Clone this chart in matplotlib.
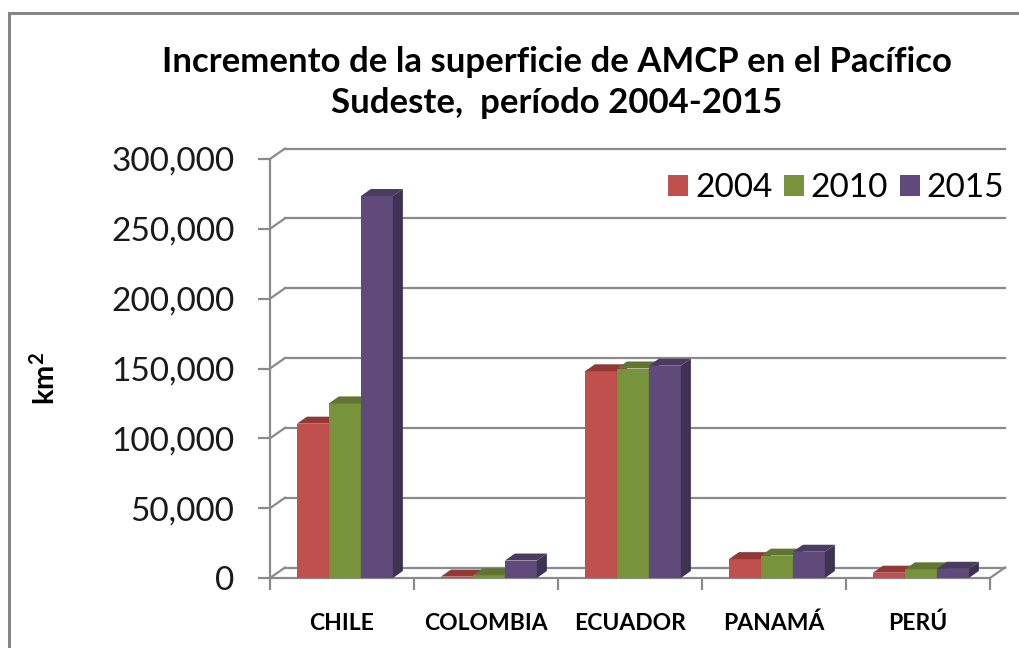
import numpy as np
import matplotlib
matplotlib.use('Agg')
import matplotlib.pyplot as plt
from matplotlib.patches import Polygon, Rectangle, Patch

plt.rcParams['font.family'] = ['Lato', 'DejaVu Sans']
plt.rcParams['mathtext.fontset'] = 'custom'
plt.rcParams['mathtext.rm'] = 'Lato'
plt.rcParams['mathtext.bf'] = 'Lato:bold'

countries = ['CHILE', 'COLOMBIA', 'ECUADOR', 'PANAMÁ', 'PERÚ']
years = ['2004', '2010', '2015']
v2004 = [110500, 1000, 148000, 13500, 3800]
v2010 = [125000, 2000, 150000, 16000, 6200]
v2015 = [273500, 12500, 152000, 18800, 6600]
yticks = [0, 50000, 100000, 150000, 200000, 250000, 300000]

front = ['#C0504D', '#77933C', '#604A7B']
top = ['#953735', '#5F7530', '#4B3A62']
side = ['#8C3A38', '#566B2C', '#3F3151']
grid_c = '#8A8A8A'

W, H = 1020, 648
fig = plt.figure(figsize=(W / 100, H / 100), dpi=100)
# front plane of the 3d plot area, in pixels: x 270..990, y(0)=578, y(300k)=159
ax = fig.add_axes([270 / W, (H - 578) / H, 720 / W, 419 / H])
ax.set_xlim(0, 5)
ax.set_ylim(0, 300000)
for s in ax.spines.values():
    s.set_visible(False)

px_x = 5 / 720.0
px_y = 300000 / 419.0
# wall depth and bar depth offsets (pixels -> data)
wdx, wdy = 15 * px_x, 10.5 * px_y
bdx, bdy = 10 * px_x, 7 * px_y

# back wall gridlines + side wall diagonals
for v in yticks:
    ax.plot([wdx, 5 + wdx], [v + wdy, v + wdy], color=grid_c, lw=1.6, clip_on=False, zorder=1)
    ax.plot([0, wdx], [v, v + wdy], color=grid_c, lw=1.6, clip_on=False, zorder=1)
# floor
ax.plot([0, 5], [0, 0], color=grid_c, lw=1.6, clip_on=False, zorder=1)
ax.plot([5, 5 + wdx], [0, wdy], color=grid_c, lw=1.6, clip_on=False, zorder=1)
ax.plot([0, 0], [0, 300000], color=grid_c, lw=1.6, clip_on=False, zorder=1)

# bars
bw = 32 * px_x
x = np.arange(len(countries)) + 0.5
for k, vals in enumerate([v2004, v2010, v2015]):
    xc = x + (k - 1) * bw + 0.02
    ax.bar(xc, vals, width=bw, color=front[k], zorder=3 + k, linewidth=0)
    for xi, h in zip(xc, vals):
        x0, x1 = xi - bw / 2, xi + bw / 2
        ax.add_patch(Polygon([(x0, h), (x1, h), (x1 + bdx, h + bdy), (x0 + bdx, h + bdy)],
                             closed=True, facecolor=top[k], lw=0, zorder=3 + k, clip_on=False))
        ax.add_patch(Polygon([(x1, 0), (x1 + bdx, bdy), (x1 + bdx, h + bdy), (x1, h)],
                             closed=True, facecolor=side[k], lw=0, zorder=3 + k, clip_on=False))

# axes ticks
ax.set_yticks(yticks)
ax.set_yticklabels(['{:,.0f}'.format(v) for v in yticks], fontsize=24, color='#1a1a1a')
ax.tick_params(axis='y', length=8.6, width=1.6, color=grid_c, pad=17)
ax.set_xticks(x)
ax.set_xticklabels(countries, fontsize=16.5, fontweight='bold')
ax.tick_params(axis='x', length=0, pad=25)
ax.set_xticks(np.arange(0, 6), minor=True)
ax.tick_params(axis='x', which='minor', length=8.6, width=1.6, color=grid_c)

# title and axis label
fig.text(557 / W, 1 - 62 / H, 'Incremento de la superficie de AMCP en el Pacífico',
         ha='center', va='center', fontsize=25, fontweight='bold')
fig.text(557 / W, 1 - 103 / H, 'Sudeste,  período 2004-2015',
         ha='center', va='center', fontsize=25, fontweight='bold')
fig.text(45 / W, 1 - 378 / H, r'$\mathbf{km^2}$', rotation=90, ha='center', va='center',
         fontsize=21)

# legend
handles = [Patch(facecolor=front[k], edgecolor='none') for k in range(3)]
fig.legend(handles, years, loc='upper right', bbox_to_anchor=(1004 / W, 1 - 173 / H),
           ncol=3, frameon=False, fontsize=24, handlelength=0.6, handleheight=0.6,
           handletextpad=0.2, columnspacing=0.35, borderpad=0, borderaxespad=0)

# outer chart border
fig.add_artist(Rectangle((9 / W, -0.1), 2, 1.1 - 13 / H, transform=fig.transFigure,
                         fill=False, edgecolor='#868686', lw=2.2))

fig.savefig('out.png', dpi=100)
